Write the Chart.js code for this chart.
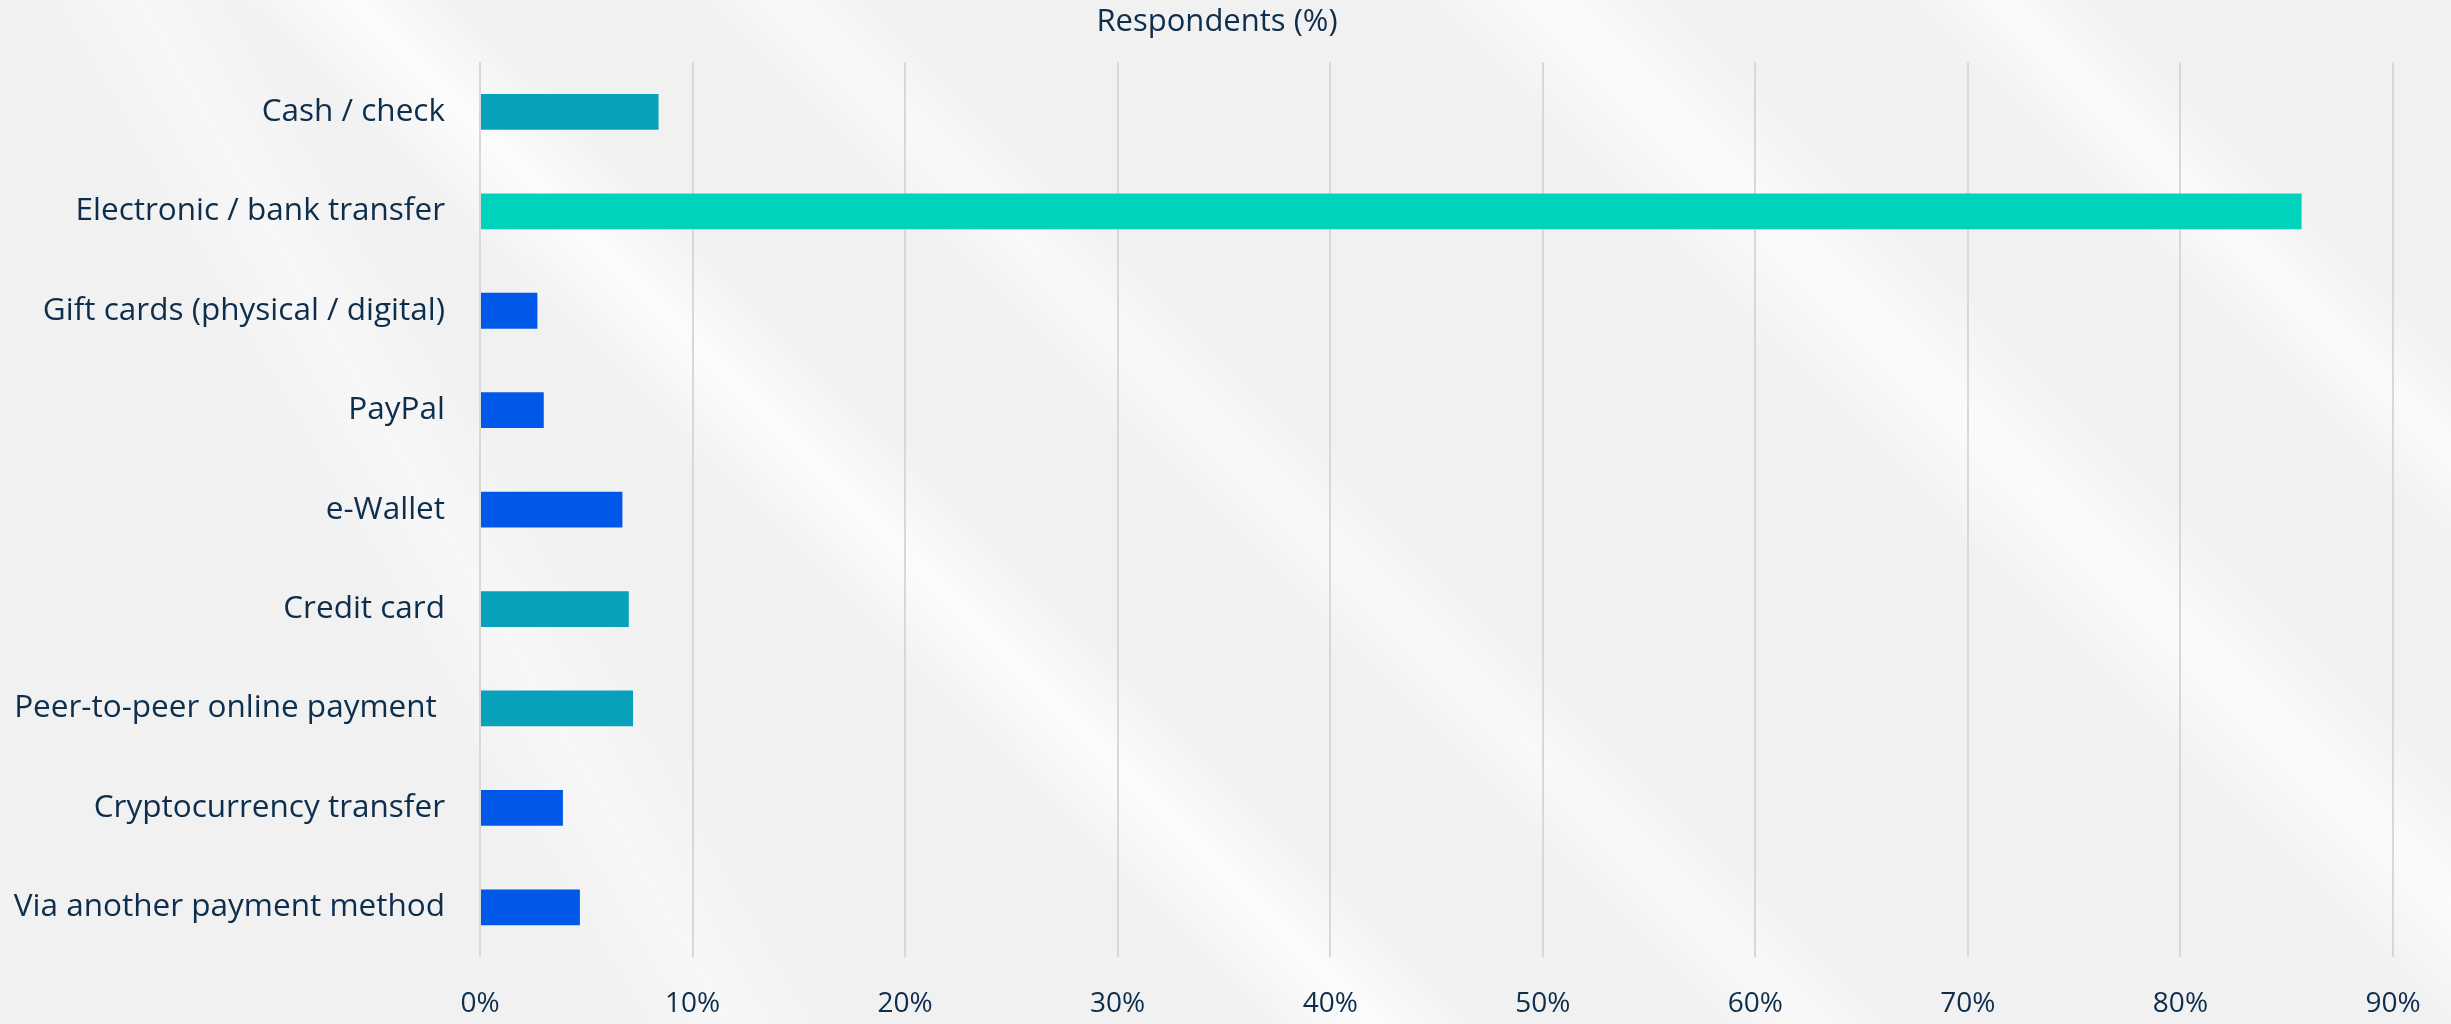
<!DOCTYPE html>
<html>
<head>
<meta charset="utf-8">
<script src="https://cdn.jsdelivr.net/npm/chart.js@4.4.1/dist/chart.umd.min.js"></script>
<style>
  html, body { margin: 0; padding: 0; }
  body {
    width: 2451px;
    height: 1024px;
    overflow: hidden;
    background-color: #f1f1f1;
    background-image:
      linear-gradient(45deg, rgba(255,255,255,0) 36%, rgba(255,255,255,0.8) 39.5%, rgba(255,255,255,0) 43%),
      linear-gradient(45deg, rgba(255,255,255,0) 49%, rgba(255,255,255,0.6) 52%, rgba(255,255,255,0) 55%),
      linear-gradient(45deg, rgba(255,255,255,0) 70%, rgba(255,255,255,0.75) 74%, rgba(255,255,255,0) 78%),
      linear-gradient(45deg, rgba(255,255,255,0) 84%, rgba(255,255,255,0.7) 87%, rgba(255,255,255,0) 90%),
      linear-gradient(60deg, rgba(255,255,255,0) 20%, rgba(255,255,255,0.45) 24%, rgba(255,255,255,0) 28%);
  }
  canvas { display: block; }
</style>
</head>
<body>
<canvas id="payment-methods" width="2451" height="1024"></canvas>
<script>
const categories = [
  "Cash / check",
  "Electronic / bank transfer",
  "Gift cards (physical / digital)",
  "PayPal",
  "e-Wallet",
  "Credit card",
  "Peer-to-peer online payment ",
  "Cryptocurrency transfer",
  "Via another payment method"
];
const respondents = [8.4, 85.7, 2.7, 3.0, 6.7, 7.0, 7.2, 3.9, 4.7];
const xTicks = [0, 10, 20, 30, 40, 50, 60, 70, 80, 90];

const teal = "#07a2b9";
const mint = "#00d3bb";
const blue = "#0058e8";
const barColors = [teal, mint, blue, blue, blue, teal, teal, blue, blue];
const navy = "#0d2e4d";

const data = {
  labels: categories,
  datasets: [
    {
      label: "Respondents (%)",
      data: respondents,
      backgroundColor: barColors,
      borderWidth: 0,
      categoryPercentage: 1,
      barPercentage: 0.36,
    },
  ],
};

const config = {
  type: "bar",
  data: data,
  options: {
    indexAxis: "y",
    responsive: false,
    animation: false,
    devicePixelRatio: 1,
    layout: { padding: { top: 0, right: 17, bottom: 0, left: 0 } },
    plugins: {
      legend: { display: false },
      tooltip: { enabled: false },
      title: {
        display: true,
        text: "Respondents (%)",
        color: navy,
        font: { family: "'Open Sans'", size: 31, weight: "normal" },
        padding: { top: 4, bottom: 21 },
      },
    },
    scales: {
      x: {
        min: xTicks[0],
        max: xTicks[xTicks.length - 1],
        afterBuildTicks: (scale) => {
          scale.ticks = xTicks.map((v) => ({ value: v }));
        },
        afterFit: (scale) => { scale.height = 67; },
        grid: { color: "#d8d8d8", lineWidth: 2, drawTicks: false },
        border: { display: false },
        ticks: {
          color: navy,
          padding: 30,
          font: { family: "'Open Sans'", size: 28 },
          callback: (v) => v + "%",
        },
      },
      y: {
        afterFit: (scale) => { scale.width = 480; },
        grid: { display: false },
        border: { display: false },
        ticks: {
          color: navy,
          padding: 27,
          font: { family: "'Open Sans'", size: 31.5 },
        },
      },
      // empty right-hand gutter so the plot ends at the 90% line
      gutter: {
        type: "linear",
        position: "right",
        afterFit: (scale) => { scale.width = 41; },
        grid: { display: false },
        border: { display: false },
        ticks: { display: false },
      },
    },
  },
};

const canvas = document.getElementById("payment-methods");
const chart = new Chart(canvas, config);
</script>
</body>
</html>
